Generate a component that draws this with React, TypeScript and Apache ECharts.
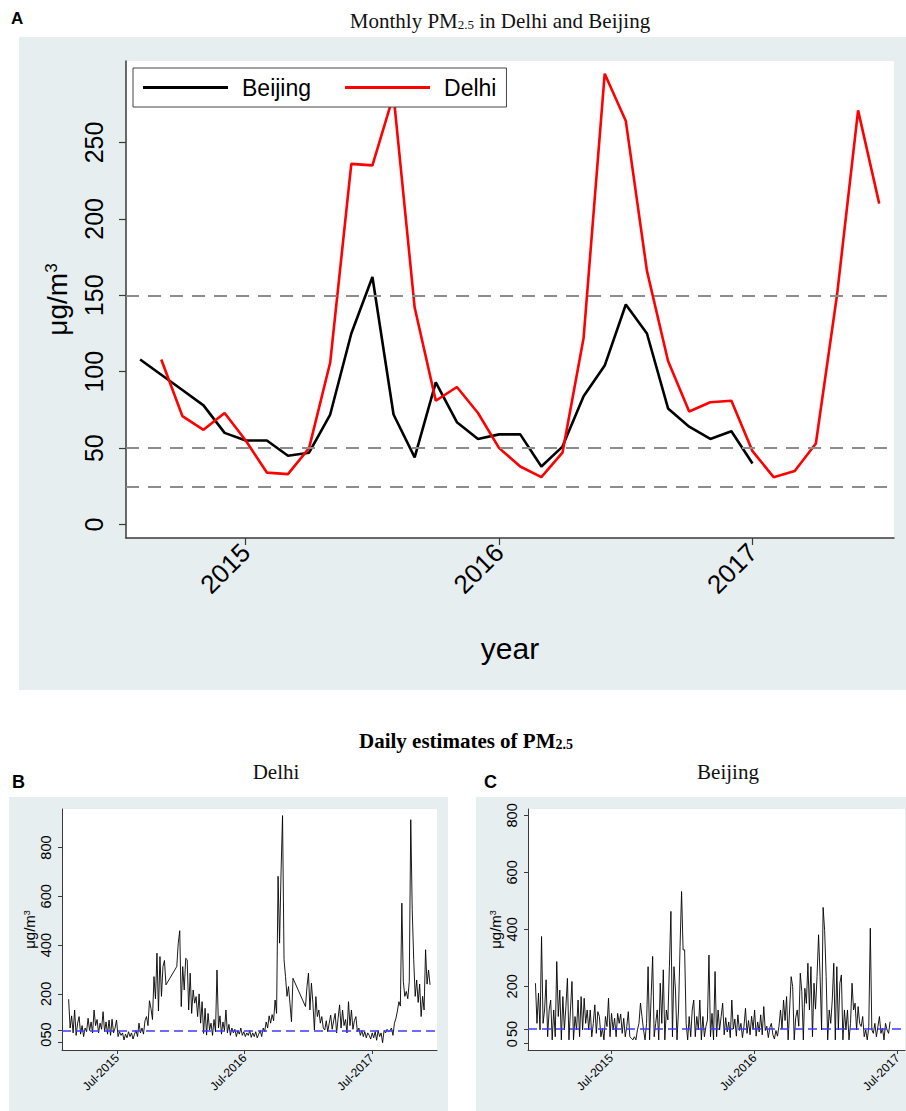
import React, { useEffect, useRef } from "react";
import * as echarts from "echarts";

// ---------- Panel A: monthly PM2.5 ----------
const monthlyTickLabels = ["2015", "2016", "2017"];
const monthlyTickMonths = ["2015-01", "2016-01", "2017-01"];
const monthlyYTicks = [0, 50, 100, 150, 200, 250];
const beijingStartMonth = "2014-08";
const beijingMonthly = [108, 98, 88, 78, 60, 55, 55, 45, 47, 72, 125, 162, 72, 44, 93, 67, 56, 59, 59, 38, 51, 84, 104, 144, 125, 76, 64, 56, 61, 40];
const delhiStartMonth = "2014-09";
const delhiMonthly = [108, 71, 62, 73, 55, 34, 33, 50, 106, 236, 235, 281, 142, 81, 90, 73, 50, 38, 31, 47, 122, 295, 264, 166, 107, 74, 80, 81, 48, 31, 35, 53, 150, 271, 210];
const referenceLevels = [150, 50, 25];

// ---------- Panels B & C: daily PM2.5 ----------
const dailyTickLabels = ["Jul-2015", "Jul-2016", "Jul-2017"];
const dailyTickDates = ["2015-07-01", "2016-07-01", "2017-07-01"];
const dailyYTicks = [0, 50, 200, 400, 600, 800];
const dailyLimit = 50;

const delhiDaily1Range = ["2015-02-12", "2015-11-18"];
const delhiDaily1 = [178, 60, 110, 40, 134, 30, 80, 107, 35, 70, 25, 60, 45, 100, 50, 85, 40, 134, 70, 95, 40, 80, 55, 127, 45, 85, 35, 93, 30, 96, 40, 60, 93, 25, 45, 30, 40, 11, 35, 20, 45, 25, 40, 15, 35, 50, 25, 80, 40, 60, 35, 90, 107, 70, 172, 140, 95, 271, 180, 367, 130, 353, 190, 312, 337, 237];
const delhiDaily2Range = ["2015-12-19", "2016-11-17"];
const delhiDaily2 = [312, 408, 459, 148, 312, 216, 346, 340, 134, 285, 120, 216, 162, 189, 107, 200, 80, 168, 38, 141, 31, 120, 52, 80, 30, 95, 45, 298, 60, 110, 35, 85, 50, 134, 40, 75, 30, 60, 40, 55, 25, 50, 35, 60, 30, 45, 25, 40, 30, 50, 22, 40, 25, 45, 20, 35, 50, 25, 60, 45, 85, 60, 110, 80, 115, 90, 175, 120, 682, 408, 700, 931, 340, 271, 190, 230, 160, 86, 264];
const delhiDaily3Range = ["2016-12-23", "2017-12-15"];
const delhiDaily3 = [148, 230, 285, 134, 244, 162, 52, 189, 107, 134, 80, 107, 60, 52, 90, 45, 80, 113, 55, 90, 120, 40, 100, 155, 60, 134, 70, 95, 40, 168, 70, 134, 55, 90, 107, 45, 60, 30, 50, 25, 45, 20, 40, 30, 15, 40, 20, 45, 10, 50, 25, 40, 0, 50, 40, 55, 45, 50, 60, 30, 80, 100, 130, 168, 150, 572, 250, 190, 210, 180, 250, 914, 545, 340, 190, 257, 165, 240, 107, 190, 134, 381, 240, 298, 237];

const beijingDailyRange = ["2014-12-20", "2017-06-12"];
const beijingDaily = [
  211, 70, 176, 47, 375, 70, 117, 223, 23, 117, 152, 12, 117, 23, 287, 94, 187, 12, 164, 47,
  129, 228, 12, 117, 217, 12, 94, 47, 152, 23, 164, 47, 158, 70, 117, 47, 117, 23, 70, 135,
  35, 111, 94, 23, 53, 12, 94, 59, 158, 23, 105, 47, 88, 23, 105, 70, 103, 35, 88, 23,
  59, 111, 23, 18, 12, 23, 12, 47, 70, 141, 94, 47, 12, 70, 269, 12, 164, 305, 23, 70,
  117, 12, 211, 70, 258, 12, 117, 82, 269, 463, 23, 269, 187, 12, 117, 340, 533, 328, 328, 70,
  12, 94, 23, 117, 152, 23, 94, 47, 152, 12, 94, 23, 59, 82, 310, 23, 105, 12, 252, 23,
  117, 47, 94,
  141, 30, 90, 40, 75, 20, 152, 50, 85, 25, 100, 45, 70, 20, 60, 123, 35, 80, 30, 95,
  50, 117, 25, 75, 40, 100, 30, 129, 45, 60, 20, 55, 70, 30, 15, 45, 25, 60,
  117, 50, 152, 80, 164, 12, 120, 234, 199, 12, 90, 117, 60, 246, 181, 12, 193, 140, 281, 117,
  269, 23, 211, 120, 234, 381, 234, 47, 477, 396, 234, 12, 117, 70, 152, 281, 12, 269, 47, 211,
  240, 12, 117, 47, 117, 12, 70, 211, 117, 141, 47, 129, 70, 59, 94, 23, 47, 12, 59, 404,
  47, 35, 70, 23, 59, 94, 35, 53, 12, 70, 47, 35, 76,
];

// ---------- helpers ----------
const monthIndex = (ym: string) => {
  const [y, m] = ym.split("-").map(Number);
  return (y - 2015) * 12 + (m - 1);
};
const decYear = (d: string) => {
  const dt = new Date(d + "T00:00:00Z");
  const y = dt.getUTCFullYear();
  const s = Date.UTC(y, 0, 1);
  const e = Date.UTC(y + 1, 0, 1);
  return y + (dt.getTime() - s) / (e - s);
};
const spread = (range: string[], values: number[]) => {
  const a = decYear(range[0]);
  const b = decYear(range[1]);
  return values.map((v, i) => [a + ((b - a) * i) / (values.length - 1), v]);
};

const SANS = "'Liberation Sans', Arial, Helvetica, sans-serif";
const SERIF = "'Liberation Serif', 'Times New Roman', serif";
const BG = "#e6eef0";
const AXIS = "#3a3a3a";

function buildOption() {
  const monthTickVals = monthlyTickMonths.map(monthIndex);
  const dailyTickVals = dailyTickDates.map(decYear);
  const dailyLabel = (v: number) => {
    const i = dailyTickVals.findIndex((t) => Math.abs(t - v) < 1e-6);
    return i >= 0 ? dailyTickLabels[i] : "";
  };
  const monthLabel = (v: number) => {
    const i = monthTickVals.findIndex((t) => Math.abs(t - v) < 1e-6);
    return i >= 0 ? monthlyTickLabels[i] : "";
  };

  const dailyX = (gridIndex: number, min: number, max: number) => ({
    type: "value",
    gridIndex,
    min,
    max,
    splitLine: { show: false },
    axisLine: { show: true, onZero: false, lineStyle: { color: AXIS, width: 1 } },
    axisTick: { show: true, customValues: dailyTickVals, length: 4, lineStyle: { color: AXIS } },
    axisLabel: {
      customValues: dailyTickVals,
      formatter: dailyLabel,
      rotate: 45,
      fontSize: 12,
      fontFamily: SANS,
      color: "#000",
      margin: 6,
      hideOverlap: false,
    },
  });
  const dailyY = (gridIndex: number, min: number, max: number) => ({
    type: "value",
    gridIndex,
    min,
    max,
    splitLine: { show: false },
    axisLine: { show: true, onZero: false, lineStyle: { color: AXIS, width: 1 } },
    axisTick: { show: true, customValues: dailyYTicks, length: 4, lineStyle: { color: AXIS } },
    axisLabel: {
      customValues: dailyYTicks,
      rotate: 90,
      fontSize: 14.5,
      fontFamily: SANS,
      color: "#000",
      margin: 9,
      hideOverlap: false,
    },
    name: "{a|μg/m}{s|3}",
    nameLocation: "middle",
    nameGap: 22,
    nameRotate: 90,
    nameTextStyle: {
      rich: {
        a: { fontSize: 15, fontFamily: SANS, color: "#000" },
        s: { fontSize: 9, fontFamily: SANS, color: "#000", verticalAlign: "top" },
      },
    },
  });

  const dailyLine = (name: string, idx: number, data: number[][]) => ({
    name,
    type: "line",
    xAxisIndex: idx,
    yAxisIndex: idx,
    data,
    symbol: "none",
    showSymbol: false,
    color: "#000",
    lineStyle: { color: "#000", width: 0.9 },
    markLine: {
      silent: true,
      symbol: ["none", "none"],
      label: { show: false },
      lineStyle: { color: "#3b3bff", width: 1.5, type: [9, 5] },
      data: [{ yAxis: dailyLimit }],
    },
  });

  const delhiDaily = [
    ...spread(delhiDaily1Range, delhiDaily1),
    ...spread(delhiDaily2Range, delhiDaily2),
    ...spread(delhiDaily3Range, delhiDaily3),
  ];
  const beijingDailyData = spread(beijingDailyRange, beijingDaily);

  return {
    animation: false,
    backgroundColor: "#ffffff",
    graphic: [
      { type: "rect", z: -10, shape: { x: 19, y: 37, width: 887, height: 653 }, style: { fill: BG } },
      { type: "rect", z: -10, shape: { x: 9, y: 797, width: 439, height: 314 }, style: { fill: BG } },
      { type: "rect", z: -10, shape: { x: 476, y: 797, width: 430, height: 314 }, style: { fill: BG } },
      { type: "text", x: 11, y: 10, style: { text: "A", font: `bold 17px ${SANS}`, fill: "#000" } },
      {
        type: "text",
        x: 500,
        y: 19,
        style: {
          text: "{a|Monthly PM}{s|2.5}{a| in Delhi and Beijing}",
          align: "center",
          verticalAlign: "middle",
          rich: {
            a: { fontSize: 21, fontFamily: SERIF, fill: "#111", lineHeight: 24, verticalAlign: "bottom" },
            s: { fontSize: 13, fontFamily: SERIF, fill: "#111", lineHeight: 20, verticalAlign: "bottom" },
          },
        },
      },
      {
        type: "text",
        x: 466,
        y: 739,
        style: {
          text: "{a|Daily estimates of PM}{s|2.5}",
          align: "center",
          verticalAlign: "middle",
          rich: {
            a: { fontSize: 21, fontWeight: "bold", fontFamily: SERIF, fill: "#000", lineHeight: 24, verticalAlign: "bottom" },
            s: { fontSize: 14, fontWeight: "bold", fontFamily: SERIF, fill: "#000", lineHeight: 20, verticalAlign: "bottom" },
          },
        },
      },
      { type: "text", x: 12, y: 773, style: { text: "B", font: `bold 18px ${SANS}`, fill: "#000" } },
      { type: "text", x: 484, y: 773, style: { text: "C", font: `bold 18px ${SANS}`, fill: "#000" } },
      {
        type: "text",
        x: 276,
        y: 772,
        style: { text: "Delhi", font: `21px ${SERIF}`, fill: "#111", align: "center", verticalAlign: "middle" },
      },
      {
        type: "text",
        x: 728,
        y: 772,
        style: { text: "Beijing", font: `21px ${SERIF}`, fill: "#111", align: "center", verticalAlign: "middle" },
      },
    ],
    legend: {
      data: ["Beijing", "Delhi"],
      left: 133,
      top: 68,
      orient: "horizontal",
      backgroundColor: "#fff",
      borderColor: "#444",
      borderWidth: 1,
      padding: [8, 10, 8, 10],
      itemWidth: 85,
      itemHeight: 3,
      itemGap: 34,
      icon: "rect",
      selectedMode: false,
      textStyle: { fontSize: 23, fontFamily: SANS, color: "#000", padding: [0, 0, 0, 9] },
    },
    grid: [
      { left: 126, top: 61, width: 768, height: 477, show: true, backgroundColor: "#fff", borderWidth: 0 },
      { left: 62, top: 809, width: 375, height: 241, show: true, backgroundColor: "#fff", borderWidth: 0 },
      { left: 528, top: 809, width: 377, height: 241, show: true, backgroundColor: "#fff", borderWidth: 0 },
    ],
    xAxis: [
      {
        type: "value",
        gridIndex: 0,
        min: -5.67,
        max: 30.7,
        splitLine: { show: false },
        axisLine: { show: true, onZero: false, lineStyle: { color: AXIS, width: 1.5 } },
        axisTick: { show: true, customValues: monthTickVals, length: 7, lineStyle: { color: AXIS, width: 1.2 } },
        axisLabel: {
          customValues: monthTickVals,
          formatter: monthLabel,
          rotate: 45,
          fontSize: 26,
          fontFamily: SANS,
          color: "#000",
          margin: 10,
          hideOverlap: false,
        },
        name: "year",
        nameLocation: "middle",
        nameGap: 95,
        nameTextStyle: { fontSize: 30, fontFamily: SANS, color: "#000" },
      },
      dailyX(1, decYear("2015-01-24"), decYear("2018-01-04")),
      dailyX(2, decYear("2014-12-01"), decYear("2017-07-20")),
    ],
    yAxis: [
      {
        type: "value",
        gridIndex: 0,
        min: -8.8,
        max: 303.3,
        splitLine: { show: false },
        axisLine: { show: true, onZero: false, lineStyle: { color: AXIS, width: 1.5 } },
        axisTick: { show: true, customValues: monthlyYTicks, length: 7, lineStyle: { color: AXIS, width: 1.2 } },
        axisLabel: {
          customValues: monthlyYTicks,
          rotate: 90,
          fontSize: 25,
          fontFamily: SANS,
          color: "#000",
          margin: 20,
          hideOverlap: false,
        },
        name: "{a|μg/m}{s|3}",
        nameLocation: "middle",
        nameGap: 55,
        nameRotate: 90,
        nameTextStyle: {
          rich: {
            a: { fontSize: 28, fontFamily: SANS, color: "#000" },
            s: { fontSize: 17, fontFamily: SANS, color: "#000", verticalAlign: "top" },
          },
        },
      },
      dailyY(1, -30, 958),
      dailyY(2, -23.5, 822.5),
    ],
    series: [
      {
        name: "Beijing",
        type: "line",
        xAxisIndex: 0,
        yAxisIndex: 0,
        data: beijingMonthly.map((v, i) => [monthIndex(beijingStartMonth) + i, v]),
        symbol: "none",
        showSymbol: false,
        color: "#000",
        lineStyle: { color: "#000", width: 2.6 },
        z: 3,
        markLine: {
          silent: true,
          symbol: ["none", "none"],
          label: { show: false },
          lineStyle: { color: "#8c8c8c", width: 2, type: [13, 9] },
          data: referenceLevels.map((v) => ({ yAxis: v })),
        },
      },
      {
        name: "Delhi",
        type: "line",
        xAxisIndex: 0,
        yAxisIndex: 0,
        data: delhiMonthly.map((v, i) => [monthIndex(delhiStartMonth) + i, v]),
        symbol: "none",
        showSymbol: false,
        color: "#ff0000",
        lineStyle: { color: "#ff0000", width: 2.6 },
        z: 3,
      },
      dailyLine("Delhi daily", 1, delhiDaily),
      dailyLine("Beijing daily", 2, beijingDailyData),
    ],
  };
}

export default function App() {
  const ref = useRef<HTMLDivElement>(null);
  useEffect(() => {
    if (!ref.current) return;
    const chart = echarts.init(ref.current, undefined, { renderer: "svg" });
    chart.setOption(buildOption() as any);
    return () => chart.dispose();
  }, []);
  return (
    <div
      ref={ref}
      style={{ position: "absolute", left: 0, top: 0, width: 906, height: 1111 }}
    />
  );
}
